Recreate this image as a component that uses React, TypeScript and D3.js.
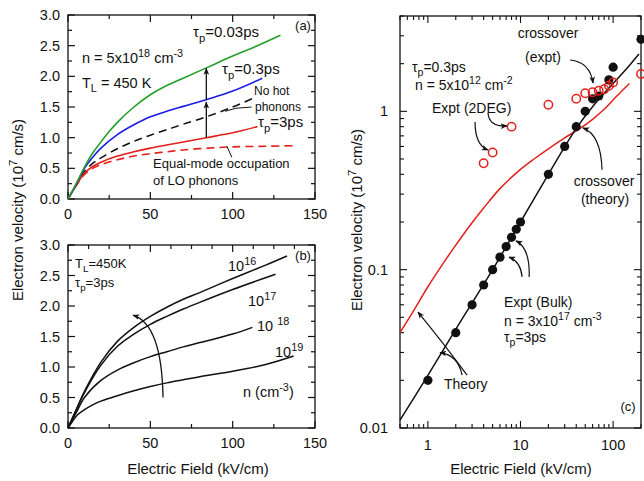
import React from 'react';
import * as d3 from 'd3';

// panel (a): velocity vs field, n = 5e18, TL = 450K
const green03: [number, number][] = [[0, 0], [5, 0.25], [10, 0.52], [15, 0.75], [20, 0.93], [25, 1.1], [30, 1.25], [40, 1.5], [50, 1.7], [60, 1.85], [70, 1.97], [85, 2.15], [100, 2.33], [115, 2.5], [129, 2.67]];
const blue3: [number, number][] = [[0, 0], [5, 0.24], [10, 0.5], [15, 0.68], [20, 0.83], [30, 1.05], [40, 1.21], [50, 1.34], [60, 1.43], [70, 1.51], [84, 1.62], [100, 1.76], [118, 1.97]];
const noHot: [number, number][] = [[0, 0], [5, 0.24], [10, 0.45], [15, 0.58], [20, 0.67], [30, 0.82], [40, 0.94], [50, 1.04], [60, 1.13], [70, 1.22], [84, 1.34], [100, 1.5], [113, 1.65]];
const red3ps: [number, number][] = [[0, 0], [5, 0.22], [10, 0.42], [15, 0.53], [20, 0.6], [30, 0.7], [40, 0.77], [50, 0.83], [60, 0.88], [70, 0.93], [84, 1.0], [100, 1.08], [115, 1.18]];
const equalMode: [number, number][] = [[0, 0], [5, 0.22], [10, 0.4], [15, 0.5], [20, 0.56], [30, 0.64], [40, 0.7], [50, 0.74], [60, 0.77], [70, 0.8], [85, 0.83], [100, 0.85], [120, 0.86], [139, 0.87]];

// panel (b): density dependence, tau_p = 3ps
const n16: [number, number][] = [[0, 0], [5, 0.3], [10, 0.6], [20, 1.08], [30, 1.42], [40, 1.65], [50, 1.83], [60, 1.98], [70, 2.11], [80, 2.22], [100, 2.45], [120, 2.67], [133, 2.82]];
const n17: [number, number][] = [[0, 0], [5, 0.3], [10, 0.58], [20, 1.03], [30, 1.34], [40, 1.54], [50, 1.7], [60, 1.83], [70, 1.95], [80, 2.06], [100, 2.27], [126, 2.52]];
const n18: [number, number][] = [[0, 0], [5, 0.25], [10, 0.5], [20, 0.78], [30, 0.95], [40, 1.07], [50, 1.17], [60, 1.25], [70, 1.33], [80, 1.4], [100, 1.54], [112, 1.65]];
const n19: [number, number][] = [[0, 0], [3, 0.12], [6, 0.22], [10, 0.3], [15, 0.38], [20, 0.44], [30, 0.53], [40, 0.61], [50, 0.68], [60, 0.74], [70, 0.79], [80, 0.84], [100, 0.93], [120, 1.04], [137, 1.18]];

// panel (c): log-log, theory and experiment
const bulkTheory: [number, number][] = [[0.5, 0.0112], [1, 0.0215], [2, 0.042], [5, 0.1], [10, 0.2], [20, 0.4], [40, 0.78], [60, 1.07], [100, 1.5], [150, 1.95], [190, 2.3]];
const gasTheory: [number, number][] = [[0.5, 0.04], [0.7, 0.055], [1, 0.078], [1.5, 0.112], [2, 0.143], [3, 0.198], [4, 0.245], [6, 0.325], [10, 0.43], [14, 0.5], [20, 0.58], [30, 0.68], [44, 0.78], [60, 0.89], [80, 1.03], [100, 1.18], [125, 1.35], [150, 1.5]];
const bulkExpt: [number, number][] = [[1, 0.02], [2, 0.04], [3, 0.06], [4, 0.08], [5, 0.1], [6, 0.12], [7, 0.14], [8, 0.16], [9, 0.18], [10, 0.2], [20, 0.4], [30, 0.6], [40, 0.8], [50, 1.0], [60, 1.2], [70, 1.25], [90, 1.58], [100, 1.9], [200, 2.85]];
const gasExpt: [number, number][] = [[4, 0.47], [5, 0.55], [8, 0.8], [20, 1.1], [40, 1.2], [50, 1.3], [60, 1.32], [70, 1.35], [80, 1.38], [90, 1.45], [100, 1.52], [200, 1.72]];

const linYLabels = [0, 0.5, 1, 1.5, 2, 2.5, 3];
const linXLabels = [0, 50, 100, 150];
const logYLabels = [0.01, 0.1, 1];
const logXLabels = [1, 10, 100];

// annotation arrows in data coords: tail, control, tip
const arrowsC: [number, number][][] = [
  [[34.3, 2.11], [56.3, 2.05], [60.7, 1.51]],
  [[75.9, 0.427], [74.1, 0.71], [47.3, 0.786]],
  [[4.46, 0.977], [4.57, 0.797], [7.15, 0.809]],
  [[3.23, 0.857], [3.23, 0.613], [4.46, 0.57]],
  [[12.4, 0.09], [12.7, 0.137], [8.95, 0.152]],
  [[10.4, 0.09], [10.1, 0.112], [7.52, 0.12]],
  [[2.65, 0.0216], [1.53, 0.0334], [0.782, 0.054]],
  [[2.34, 0.0216], [2.11, 0.0289], [1.35, 0.0299]],
];

const FONT = '"Liberation Sans", Arial, Helvetica, sans-serif';
const GREEN = '#22a02a';
const BLUE = '#1c1ce6';
const RED = '#e3201b';

const xA = d3.scaleLinear().domain([0, 150]).range([68, 315]);
const yA = d3.scaleLinear().domain([0, 3]).range([199, 15]);
const yB = d3.scaleLinear().domain([0, 3]).range([428, 245]);
const xC = d3.scaleLog().domain([0.5, 200]).range([400, 641]);
const yC = d3.scaleLog().domain([0.01, 4]).range([428, 16]);

type Part = [string, number?];
// s: 0 normal, -1 superscript, 1 subscript
const Rich = ({ x, y, parts, size = 14, anchor = 'start', fill = '#111', transform }: any) => {
  let cur = 0;
  return (
    <text x={x} y={y} fontSize={size} textAnchor={anchor} fill={fill} transform={transform} fontFamily={FONT}>
      {parts.map(([t, s = 0]: Part, i: number) => {
        const off = s === -1 ? -size * 0.42 : s === 1 ? size * 0.3 : 0;
        const dy = off - cur;
        cur = off;
        return (
          <tspan key={i} dy={dy} fontSize={s === 0 ? size : size * 0.75}>{t}</tspan>
        );
      })}
    </text>
  );
};

const LinPanel = ({ y, topStep, label }: any) => {
  const [x0, x1] = xA.range();
  const [y0, y1] = y.range();
  const bottom = d3.range(0, 151, 25);
  const top = d3.range(0, 150.01, topStep);
  const yt = d3.range(0, 3.01, 0.25);
  return (
    <g>
      <rect x={x0} y={y1} width={x1 - x0} height={y0 - y1} fill="none" stroke="#111" strokeWidth={1.3} />
      {bottom.map((v) => (
        <line key={'b' + v} x1={xA(v)} x2={xA(v)} y1={y0} y2={y0 - (v % 50 === 0 ? 7 : 4)} stroke="#111" strokeWidth={1.2} />
      ))}
      {top.map((v) => (
        <line key={'t' + v} x1={xA(v)} x2={xA(v)} y1={y1} y2={y1 + (v % 50 === 0 ? 7 : 4)} stroke="#111" strokeWidth={1.2} />
      ))}
      {yt.map((v) => {
        const len = Math.abs(v * 2 - Math.round(v * 2)) < 1e-6 ? 7 : 4;
        return (
          <g key={'y' + v}>
            <line x1={x0} x2={x0 + len} y1={y(v)} y2={y(v)} stroke="#111" strokeWidth={1.2} />
            <line x1={x1} x2={x1 - len} y1={y(v)} y2={y(v)} stroke="#111" strokeWidth={1.2} />
          </g>
        );
      })}
      {linYLabels.map((v) => (
        <text key={'yl' + v} x={x0 - 8} y={y(v) + 5} textAnchor="end" fontSize={14.5} fontFamily={FONT} fill="#111">{v.toFixed(1)}</text>
      ))}
      {linXLabels.map((v) => (
        <text key={'xl' + v} x={xA(v)} y={y0 + 20} textAnchor="middle" fontSize={14.5} fontFamily={FONT} fill="#111">{v}</text>
      ))}
      <text x={x1 - 12} y={y1 + 15} textAnchor="middle" fontSize={13} fontFamily={FONT} fill="#111">{label}</text>
    </g>
  );
};

const App = () => {
  const curve = d3.curveCatmullRom.alpha(0.5);
  const lineA = d3.line<[number, number]>().x((d) => xA(d[0])).y((d) => yA(d[1])).curve(curve);
  const lineB = d3.line<[number, number]>().x((d) => xA(d[0])).y((d) => yB(d[1])).curve(curve);
  const lineC = d3.line<[number, number]>().x((d) => xC(d[0])).y((d) => yC(d[1])).curve(curve);

  const quad = (pts: [number, number][], sx: any, sy: any) => {
    const p = d3.path();
    p.moveTo(sx(pts[0][0]), sy(pts[0][1]));
    p.quadraticCurveTo(sx(pts[1][0]), sy(pts[1][1]), sx(pts[2][0]), sy(pts[2][1]));
    return p.toString();
  };

  const [cx0, cx1] = xC.range();
  const [cy0, cy1] = yC.range();
  const isDecade = (v: number) => Math.abs(Math.log10(v) - Math.round(Math.log10(v))) < 1e-6;

  return (
    <svg width={644} height={481} style={{ position: 'absolute', left: 0, top: 0, background: '#fff' }}>
      <defs>
        <marker id="ah" viewBox="0 0 10 10" refX={9} refY={5} markerWidth={7} markerHeight={7} orient="auto-start-reverse" markerUnits="userSpaceOnUse">
          <path d="M0,1 L10,5 L0,9 L2.5,5 Z" fill="#111" />
        </marker>
      </defs>

      {/* panel (a) */}
      <LinPanel y={yA} topStep={25} label="(a)" />
      <path d={lineA(equalMode) || ''} fill="none" stroke={RED} strokeWidth={1.6} strokeDasharray="8,5" />
      <path d={lineA(noHot) || ''} fill="none" stroke="#111" strokeWidth={1.5} strokeDasharray="8,5" />
      <path d={lineA(red3ps) || ''} fill="none" stroke={RED} strokeWidth={1.6} />
      <path d={lineA(blue3) || ''} fill="none" stroke={BLUE} strokeWidth={1.6} />
      <path d={lineA(green03) || ''} fill="none" stroke={GREEN} strokeWidth={1.6} />
      <line x1={xA(84)} x2={xA(84)} y1={yA(1.0)} y2={yA(1.58)} stroke="#111" strokeWidth={1.3} markerEnd="url(#ah)" />
      <line x1={xA(84)} x2={xA(84)} y1={yA(1.62)} y2={yA(2.13)} stroke="#111" strokeWidth={1.3} markerEnd="url(#ah)" />
      <path d={`M${xA(95.5)},${yA(1.43)} L${xA(102)},${yA(1.48)} L${xA(111.5)},${yA(1.5)}`} fill="none" stroke="#111" strokeWidth={1} />
      <line x1={xA(96.5)} x2={xA(99.5)} y1={yA(0.86)} y2={yA(0.68)} stroke="#111" strokeWidth={1} />
      <Rich x={82} y={63} size={14.5} parts={[['n = 5x10'], ['18', -1], [' cm'], ['-3', -1]]} />
      <Rich x={82} y={88} size={14.5} parts={[['T'], ['L', 1], [' = 450 K']]} />
      <Rich x={193} y={37} size={15} parts={[['τ'], ['p', 1], ['=0.03ps']]} />
      <Rich x={222} y={74} size={15} parts={[['τ'], ['p', 1], ['=0.3ps']]} />
      <text x={254} y={95} fontSize={12} fontFamily={FONT} fill="#111">No hot</text>
      <text x={255} y={111} fontSize={12} fontFamily={FONT} fill="#111">phonons</text>
      <Rich x={258} y={127} size={15} parts={[['τ'], ['p', 1], ['=3ps']]} />
      <text x={153} y={168} fontSize={13} fontFamily={FONT} fill="#111">Equal-mode occupation</text>
      <text x={153} y={185} fontSize={13} fontFamily={FONT} fill="#111">of LO phonons</text>

      {/* panel (b) */}
      <LinPanel y={yB} topStep={12.5} label="(b)" />
      {[n16, n17, n18, n19].map((s, i) => (
        <path key={i} d={lineB(s) || ''} fill="none" stroke="#111" strokeWidth={1.5} />
      ))}
      <path d={quad([[57.7, 0.5], [57, 1.7], [39.5, 1.85]], xA, yB)} fill="none" stroke="#111" strokeWidth={1.3} markerEnd="url(#ah)" />
      <Rich x={75} y={268} size={13} parts={[['T'], ['L', 1], ['=450K']]} />
      <Rich x={75} y={287} size={13} parts={[['τ'], ['p', 1], ['=3ps']]} />
      <Rich x={228} y={271} size={14.5} parts={[['10'], ['16', -1]]} />
      <Rich x={248} y={306} size={14.5} parts={[['10'], ['17', -1]]} />
      <Rich x={257} y={331} size={14.5} parts={[['10 '], ['18', -1]]} />
      <Rich x={275} y={357} size={14.5} parts={[['10'], ['19', -1]]} />
      <Rich x={243} y={397} size={14.5} parts={[['n (cm'], ['-3', -1], [')']]} />

      <Rich x={0} y={0} size={15} anchor="middle" transform="translate(23,210) rotate(-90)" parts={[['Electron velocity (10'], ['7', -1], [' cm/s)']]} />
      <text x={198} y={474} textAnchor="middle" fontSize={15} fontFamily={FONT} fill="#111">Electric Field (kV/cm)</text>

      {/* panel (c) */}
      <rect x={cx0} y={cy1} width={cx1 - cx0} height={cy0 - cy1} fill="none" stroke="#111" strokeWidth={1.3} />
      {xC.ticks().map((v) => {
        const len = isDecade(v) ? 7 : 4;
        return (
          <g key={'cx' + v}>
            <line x1={xC(v)} x2={xC(v)} y1={cy0} y2={cy0 - len} stroke="#111" strokeWidth={1.1} />
            <line x1={xC(v)} x2={xC(v)} y1={cy1} y2={cy1 + len} stroke="#111" strokeWidth={1.1} />
          </g>
        );
      })}
      {yC.ticks().map((v) => {
        const len = isDecade(v) ? 7 : 4;
        return (
          <g key={'cy' + v}>
            <line x1={cx0} x2={cx0 + len} y1={yC(v)} y2={yC(v)} stroke="#111" strokeWidth={1.1} />
            <line x1={cx1} x2={cx1 - len} y1={yC(v)} y2={yC(v)} stroke="#111" strokeWidth={1.1} />
          </g>
        );
      })}
      {logYLabels.map((v) => (
        <text key={'ly' + v} x={cx0 - 12} y={yC(v) + 5} textAnchor="end" fontSize={14.5} fontFamily={FONT} fill="#111">{v}</text>
      ))}
      {logXLabels.map((v) => (
        <text key={'lx' + v} x={xC(v)} y={cy0 + 22} textAnchor="middle" fontSize={14.5} fontFamily={FONT} fill="#111">{v}</text>
      ))}
      <path d={lineC(gasTheory) || ''} fill="none" stroke={RED} strokeWidth={1.5} />
      <path d={lineC(bulkTheory) || ''} fill="none" stroke="#111" strokeWidth={1.5} />
      {bulkExpt.map((d, i) => (
        <circle key={'be' + i} cx={xC(d[0])} cy={yC(d[1])} r={4.6} fill="#111" />
      ))}
      {gasExpt.map((d, i) => (
        <circle key={'ge' + i} cx={xC(d[0])} cy={yC(d[1])} r={4.2} fill="none" stroke={RED} strokeWidth={1.5} />
      ))}
      {arrowsC.map((a, i) => (
        <path key={'ac' + i} d={quad(a, xC, yC)} fill="none" stroke="#111" strokeWidth={1.2} markerEnd="url(#ah)" />
      ))}
      <text x={548} y={38} textAnchor="middle" fontSize={14} fontFamily={FONT} fill="#111">crossover</text>
      <text x={543} y={62} textAnchor="middle" fontSize={14} fontFamily={FONT} fill="#111">(expt)</text>
      <Rich x={412} y={72} size={14} parts={[['τ'], ['p', 1], ['=0.3ps']]} />
      <Rich x={415} y={90} size={14} parts={[['n = 5x10'], ['12', -1], [' cm'], ['-2', -1]]} />
      <text x={432} y={113} fontSize={14} fontFamily={FONT} fill="#111">Expt (2DEG)</text>
      <text x={604} y={186} textAnchor="middle" fontSize={14} fontFamily={FONT} fill="#111">crossover</text>
      <text x={605} y={204} textAnchor="middle" fontSize={14} fontFamily={FONT} fill="#111">(theory)</text>
      <text x={504} y={307} fontSize={14} fontFamily={FONT} fill="#111">Expt (Bulk)</text>
      <Rich x={504} y={326} size={14} parts={[['n = 3x10'], ['17', -1], [' cm'], ['-3', -1]]} />
      <Rich x={504} y={342} size={14} parts={[['τ'], ['p', 1], ['=3ps']]} />
      <text x={444} y={389} fontSize={14} fontFamily={FONT} fill="#111">Theory</text>
      <text x={628} y={411} textAnchor="middle" fontSize={13} fontFamily={FONT} fill="#111">(c)</text>
      <Rich x={0} y={0} size={15} anchor="middle" transform="translate(362,220) rotate(-90)" parts={[['Electron velocity (10'], ['7', -1], [' cm/s)']]} />
      <text x={521} y={474} textAnchor="middle" fontSize={15} fontFamily={FONT} fill="#111">Electric Field (kV/cm)</text>
    </svg>
  );
};

export default App;
